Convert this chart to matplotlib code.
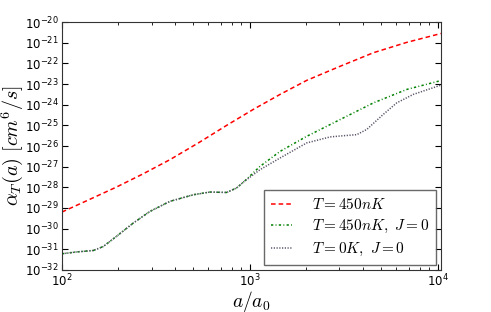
import numpy as np
import matplotlib
matplotlib.use('Agg')
import matplotlib.pyplot as plt
from matplotlib.ticker import LogLocator, NullLocator

# values: a/a0 and log10 of alpha_T (cm^6/s)
a_red = [100, 141, 195, 269, 376, 537, 753, 1047, 1449, 2009, 3020, 4550, 6840, 10400]
log_red = [-29.2, -28.58, -27.99, -27.36, -26.66, -25.83, -25.0, -24.22,
           -23.50, -22.82, -22.14, -21.48, -20.98, -20.55]

a_green = [100, 120, 147, 166, 195, 240, 294, 376, 501, 614, 753, 851, 933,
           1132, 1449, 2009, 3020, 4550, 6840, 10400]
log_green = [-31.22, -31.13, -31.06, -30.87, -30.38, -29.73, -29.17, -28.68,
             -28.36, -28.23, -28.25, -28.03, -27.72, -26.99, -26.26, -25.53,
             -24.72, -23.91, -23.26, -22.83]

a_gray = [100, 120, 147, 166, 195, 240, 294, 376, 501, 614, 753, 851, 933,
          1132, 1449, 2009, 2673, 3162, 3707, 4188, 5129, 6053, 7413, 10400]
log_gray = [-31.22, -31.13, -31.06, -30.87, -30.38, -29.73, -29.17, -28.68,
            -28.36, -28.23, -28.25, -28.03, -27.72, -27.15, -26.58, -25.85,
            -25.56, -25.50, -25.45, -25.20, -24.47, -23.91, -23.50, -23.05]

plt.rcParams['mathtext.fontset'] = 'dejavusans'
plt.rcParams['xtick.direction'] = 'in'
plt.rcParams['ytick.direction'] = 'in'

fig = plt.figure(figsize=(4.91, 3.12), dpi=100)
ax = fig.add_axes([0.126, 0.135, 0.772, 0.794])

l1, = ax.plot(a_red, 10.0 ** np.array(log_red), '--', color='red', lw=1.1,
              label=r'$T=450nK$')
l1.set_dashes([3, 2])
l2, = ax.plot(a_green, 10.0 ** np.array(log_green), '-.', color='green', lw=1.1,
              label=r'$T=450nK,\ J=0$')
l2.set_dashes([1.5, 1.5, 0.6, 1.5])
l3, = ax.plot(a_gray, 10.0 ** np.array(log_gray), ':', color='#5a5468', lw=1.1,
              label=r'$T=0K,\ J=0$')
l3.set_dashes([0.8, 1.0])

ax.set_xscale('log')
ax.set_yscale('log')
ax.set_xlim(100, 10400)
ax.set_ylim(1e-32, 1e-20)
ax.yaxis.set_major_locator(LogLocator(base=10, numticks=20))
ax.yaxis.set_minor_locator(NullLocator())
ax.tick_params(which='both', top=True, right=True, labelsize=8.5)
ax.tick_params(which='major', length=4, pad=2)
ax.tick_params(which='minor', length=2)
for s in ax.spines.values():
    s.set_color('#333333')

xl = ax.set_xlabel(r'$a/a_0$', fontsize=14, labelpad=0)
yl = ax.set_ylabel(r'$\alpha_T(a)\ [cm^6/s]$', fontsize=14.5, labelpad=0)
xl.set_math_fontfamily('cm')
yl.set_math_fontfamily('cm')

leg = ax.legend(loc='lower right', fontsize=11, handlelength=1.4,
                handletextpad=1.3, labelspacing=0.4, fancybox=False,
                borderaxespad=0.3, borderpad=0.45)
leg.get_frame().set_edgecolor('#444444')
for t in leg.get_texts():
    t.set_math_fontfamily('cm')

fig.savefig('out.png', dpi=100)
